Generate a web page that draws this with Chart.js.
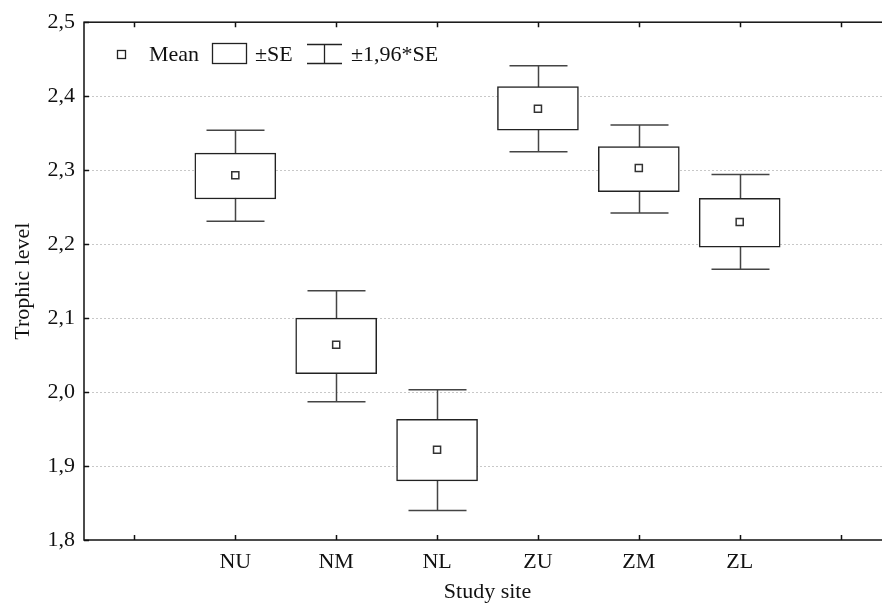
<!DOCTYPE html>
<html>
<head>
<meta charset="utf-8">
<script src="https://cdn.jsdelivr.net/npm/chart.js@4.4.1/dist/chart.umd.min.js"></script>
<style>
  html, body { margin: 0; padding: 0; background: #fff; overflow: hidden; }
  #wrap { position: relative; width: 900px; height: 605px; }
</style>
</head>
<body>
<div id="wrap"><canvas id="chart" width="900" height="605"></canvas></div>
<script>
// sites (empty slots at both ends, as in the original plot)
const sites = ['', 'NU', 'NM', 'NL', 'ZU', 'ZM', 'ZL', ''];
const means = [null, 2.293, 2.064, 1.922, 2.383, 2.303, 2.230, null];
const seLow = [null, 2.261, 2.025, 1.880, 2.354, 2.271, 2.196, null];
const seHigh = [null, 2.323, 2.100, 1.963, 2.413, 2.332, 2.262, null];
const ciLow = [null, 2.231, 1.987, 1.840, 2.325, 2.242, 2.166, null];
const ciHigh = [null, 2.354, 2.137, 2.003, 2.441, 2.361, 2.294, null];
const yTicks = [1.8, 1.9, 2.0, 2.1, 2.2, 2.3, 2.4, 2.5];

const serif = "'Liberation Serif', 'Times New Roman', serif";
const fmt = v => v.toFixed(1).replace('.', ',');

// whiskers behind the boxes, frame + inner ticks + legend on top
const boxPlugin = {
    id: 'boxPlugin',
    beforeDatasetsDraw(chart) {
        const ctx = chart.ctx;
        const x = chart.scales.x, y = chart.scales.y;
        ctx.save();
        ctx.strokeStyle = '#444';
        ctx.lineWidth = 1.5;
        for (let i = 0; i < sites.length; i++) {
            if (means[i] == null) continue;
            const px = Math.round(x.getPixelForValue(i)) + 0.5;
            const top = y.getPixelForValue(ciHigh[i]);
            const bot = y.getPixelForValue(ciLow[i]);
            ctx.beginPath();
            ctx.moveTo(px, top); ctx.lineTo(px, bot);
            ctx.moveTo(px - 29, top); ctx.lineTo(px + 29, top);
            ctx.moveTo(px - 29, bot); ctx.lineTo(px + 29, bot);
            ctx.stroke();
        }
        ctx.restore();
    },
    afterDraw(chart) {
        const ctx = chart.ctx;
        const a = chart.chartArea;
        const x = chart.scales.x, y = chart.scales.y;
        ctx.save();
        ctx.strokeStyle = '#111';
        ctx.lineWidth = 1.5;
        ctx.strokeRect(a.left, a.top, a.right - a.left, a.bottom - a.top);
        ctx.beginPath();
        for (let i = 0; i < sites.length; i++) {
            const px = Math.round(x.getPixelForValue(i)) + 0.5;
            ctx.moveTo(px, a.bottom); ctx.lineTo(px, a.bottom - 5);
            ctx.moveTo(px, a.top); ctx.lineTo(px, a.top + 5);
        }
        yTicks.forEach(v => {
            const py = Math.round(y.getPixelForValue(v)) + 0.5;
            ctx.moveTo(a.left, py); ctx.lineTo(a.left + 5, py);
        });
        ctx.stroke();

        // legend
        ctx.lineWidth = 1.3;
        ctx.strokeStyle = '#222';
        ctx.fillStyle = '#fff';
        ctx.fillRect(117, 50, 8, 8);
        ctx.strokeRect(117.5, 50.5, 8, 8);
        ctx.strokeRect(212.5, 43.5, 34, 20);
        ctx.beginPath();
        ctx.moveTo(307, 44.5); ctx.lineTo(342, 44.5);
        ctx.moveTo(324.5, 44.5); ctx.lineTo(324.5, 63.5);
        ctx.moveTo(307, 63.5); ctx.lineTo(342, 63.5);
        ctx.stroke();
        ctx.fillStyle = '#111';
        ctx.font = '22px ' + serif;
        ctx.textBaseline = 'alphabetic';
        ctx.fillText('Mean', 149, 61);
        ctx.fillText('±SE', 255, 61);
        ctx.fillText('±1,96*SE', 351, 61);
        ctx.restore();
    }
};

new Chart(document.getElementById('chart'), {
    data: {
        labels: sites,
        datasets: [{
            type: 'bar',
            label: '±SE',
            data: sites.map((s, i) => means[i] == null ? null : [seLow[i], seHigh[i]]),
            backgroundColor: '#fff',
            borderColor: '#222',
            borderWidth: 1.5,
            borderSkipped: false,
            barThickness: 81,
            order: 2
        }, {
            type: 'line',
            label: 'Mean',
            data: means,
            showLine: false,
            pointStyle: 'rect',
            pointRadius: 5,
            pointBackgroundColor: '#fff',
            pointBorderColor: '#333',
            pointBorderWidth: 1.5,
            order: 1
        }]
    },
    options: {
        responsive: false,
        animation: false,
        devicePixelRatio: 1,
        layout: { padding: { top: 19, right: 9, left: 0, bottom: 0 } },
        plugins: { legend: { display: false }, tooltip: { enabled: false } },
        scales: {
            x: {
                type: 'category',
                offset: true,
                grid: { display: false, drawTicks: false },
                border: { display: false },
                ticks: { color: '#111', font: { family: serif, size: 22 }, padding: 9, autoSkip: false, maxRotation: 0 },
                title: { display: true, text: 'Study site', color: '#111', font: { family: serif, size: 22 }, padding: { top: 10, bottom: 0 } },
                afterFit: s => { s.height = 65; }
            },
            y: {
                min: 1.8,
                max: 2.5,
                afterBuildTicks: s => { s.ticks = yTicks.map(v => ({ value: v })); },
                grid: {
                    drawTicks: false,
                    color: c => (c.tick && (c.tick.value === 1.8 || c.tick.value === 2.5)) ? 'rgba(0,0,0,0)' : '#c8c8c8',
                    lineWidth: 1
                },
                border: { display: false, dash: [2, 2] },
                ticks: { color: '#111', font: { family: serif, size: 22 }, padding: 9, callback: v => fmt(v) },
                title: { display: true, text: 'Trophic level', color: '#111', font: { family: serif, size: 22 }, padding: { top: 10, bottom: 0 } },
                afterFit: s => { s.width = 84; }
            }
        }
    },
    plugins: [boxPlugin]
});
</script>
</body>
</html>
